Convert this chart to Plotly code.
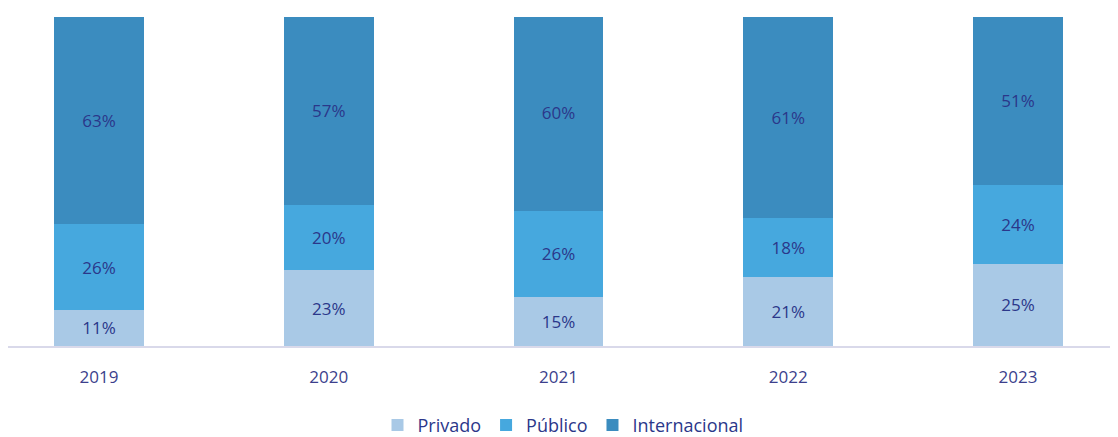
import plotly.graph_objects as go

years = ["2019", "2020", "2021", "2022", "2023"]
privado = [11, 23, 15, 21, 25]
publico = [26, 20, 26, 18, 24]
internacional = [63, 57, 60, 61, 51]

series = [
    ("Privado", privado, "#a9c9e6"),
    ("Público", publico, "#46a8de"),
    ("Internacional", internacional, "#3b8cbf"),
]

text_color = "#2b378a"
font_family = "Open Sans"

fig = go.Figure()
for name, vals, color in series:
    fig.add_trace(go.Bar(
        x=years, y=vals, name=name,
        marker=dict(color=color, line=dict(width=0)),
        width=0.39,
        text=[f"{v}%" for v in vals],
        textposition="inside",
        insidetextanchor="middle",
        constraintext="none",
        textangle=0,
        textfont=dict(family=font_family, size=17, color=text_color),
    ))

fig.update_layout(
    barmode="stack",
    width=1118, height=437,
    margin=dict(l=0, r=8, t=9, b=99, autoexpand=False),
    paper_bgcolor="white", plot_bgcolor="white",
    showlegend=True,
    legend=dict(
        orientation="h", x=0.5, xanchor="center",
        yref="container", y=0.045, yanchor="middle",
        font=dict(family=font_family, size=18, color=text_color),
        itemwidth=30, traceorder="normal",
    ),
    xaxis=dict(
        type="category", range=[-0.396, 4.435],
        showline=True, linecolor="#d9d9ea", linewidth=2,
        showgrid=False, ticks="", ticklabelstandoff=15,
        tickfont=dict(family=font_family, size=17, color="#3c3f8c"),
    ),
    yaxis=dict(
        range=[0, 100], visible=False, showgrid=False,
    ),
)

fig.write_html("out.html")
